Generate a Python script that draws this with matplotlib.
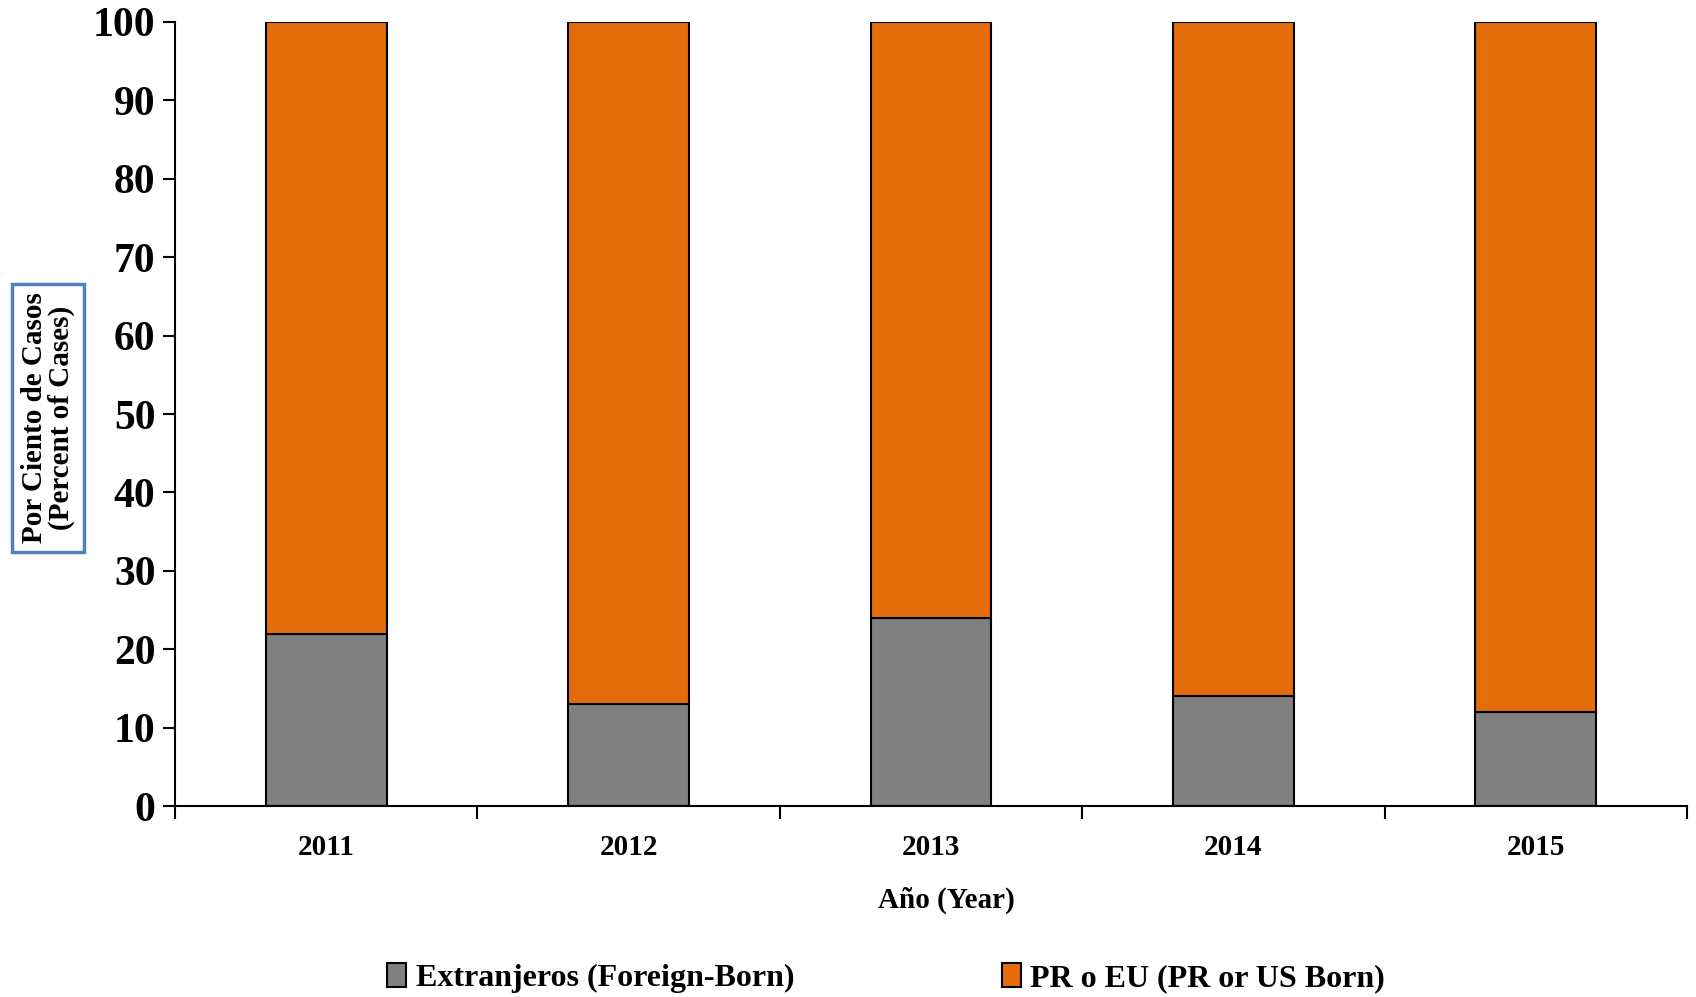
import numpy as np
import matplotlib.pyplot as plt

years = ["2011", "2012", "2013", "2014", "2015"]
foreign = [22, 13, 24, 14, 12]
local = [100 - f for f in foreign]

plt.rcParams['font.family'] = ['Liberation Serif', 'DejaVu Serif']
plt.rcParams['font.weight'] = 'bold'

fig = plt.figure(figsize=(16.96, 9.97), dpi=100)
ax = fig.add_axes([175 / 1696, 1 - 806 / 997, (1687 - 175) / 1696, (806 - 22) / 997])

x = np.arange(len(years))
ax.bar(x, foreign, width=0.4, color='#808080', edgecolor='black', linewidth=1.5,
       label='Extranjeros (Foreign-Born)')
ax.bar(x, local, width=0.4, bottom=foreign, color='#E46C0A', edgecolor='black', linewidth=1.5,
       label='PR o EU (PR or US Born)')

ax.set_xlim(-0.5, len(years) - 0.5)
ax.set_ylim(0, 100)
ax.set_yticks(np.arange(0, 101, 10))
ax.tick_params(axis='y', labelsize=30, length=9, width=1.5, pad=5)
ax.set_xticks(x)
ax.set_xticklabels(years, fontsize=21, fontweight='bold')
ax.tick_params(axis='x', which='major', length=0, pad=20)
ax.set_xticks(np.arange(-0.5, len(years)), minor=True)
ax.tick_params(axis='x', which='minor', length=9, width=1.5, direction='out')
for lab in ax.get_yticklabels():
    lab.set_fontweight('bold')

for s in ['top', 'right']:
    ax.spines[s].set_visible(False)
ax.spines['left'].set_linewidth(1.5)
ax.spines['bottom'].set_linewidth(1.5)

fig.text(946 / 1696, 1 - 900 / 997, 'Año (Year)', ha='center', va='center',
         fontsize=21, fontweight='bold')

fig.text(48 / 1696, 1 - 418 / 997, 'Por Ciento de Casos\n(Percent of Cases)',
         rotation=90, ha='center', va='center', fontsize=21, fontweight='bold',
         linespacing=1.0,
         bbox=dict(boxstyle='square,pad=0.3', facecolor='white', edgecolor='#4F81BD', linewidth=2.5))

fig.legend(loc='center', bbox_to_anchor=(886 / 1696, 1 - 978 / 997), ncol=2, frameon=False,
           prop={'size': 23, 'weight': 'bold'}, handlelength=0.6, handleheight=0.8,
           handletextpad=0.3, columnspacing=6.5)

fig.savefig('out.png', dpi=100)
